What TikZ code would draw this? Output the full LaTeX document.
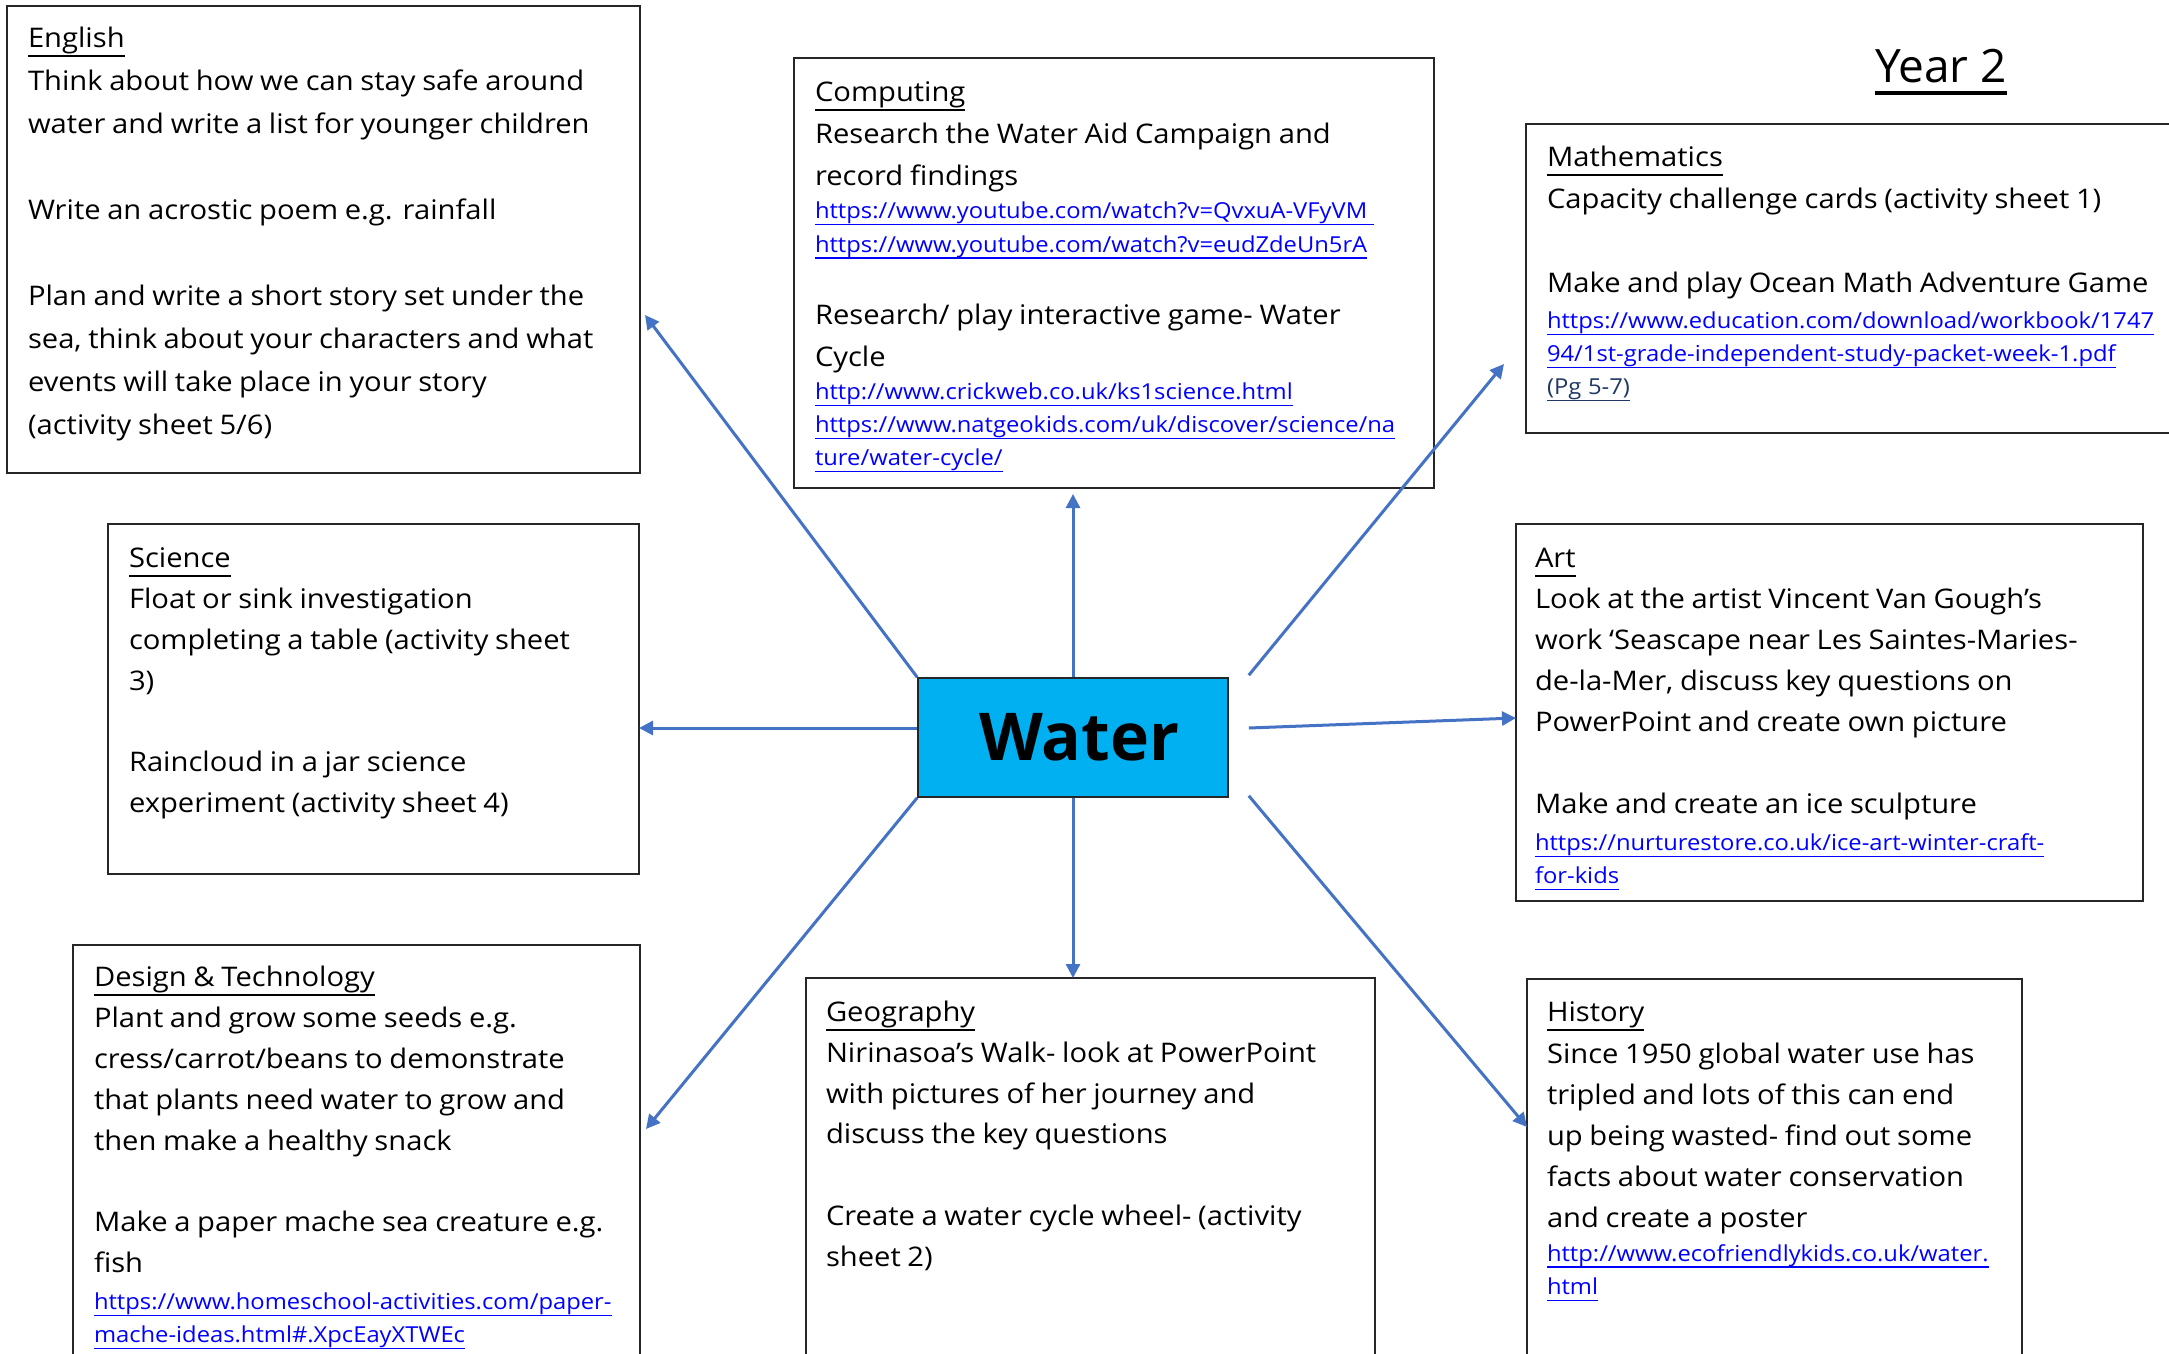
\documentclass[tikz,border=0pt]{standalone}
\usepackage{fontspec}
\setmainfont{Open Sans}[FakeStretch=1.08]
\newfontfamily\plainfont{Open Sans}
\usetikzlibrary{arrows.meta,calc}
\definecolor{arrowblue}{HTML}{4472C4}
\definecolor{waterfill}{HTML}{00B0F0}
\definecolor{linkblue}{HTML}{0000FF}
\definecolor{navylink}{HTML}{1F3864}
\definecolor{boxline}{HTML}{262626}
\newcommand\setbs[1]{\fontsize{13.5}{#1}\selectfont}
\newcommand\urlf{\fontsize{11}{16.6}\selectfont}
% #1 depth below baseline, #2 thickness, #3 text
\newcommand\ulbox[3]{\leavevmode\setbox0\hbox{#3}\rlap{\vrule height -#1 depth \dimexpr#1+#2\relax width \wd0}\box0}
\newcommand\hd[1]{\ulbox{3.7pt}{1pt}{#1}}
\newcommand\lk[1]{{\urlf\color{linkblue}\ulbox{2.7pt}{0.6pt}{#1}\par}}
\newcommand\nlk[1]{{\urlf\color{navylink}\ulbox{2.7pt}{0.6pt}{#1}\par}}
\tikzset{
  boxst/.style={draw=boxline, line width=0.8pt, anchor=north west, inner sep=0pt, outer sep=0pt, fill=white},
  txt/.style={anchor=north west, inner sep=0pt, outer sep=0pt, text width=#1, align=left,
    font={\parindent=0pt\parskip=0pt}},
  arr/.style={draw=arrowblue, line width=1.5pt, -{Triangle[length=7pt,width=7pt,fill=arrowblue]}},
  waterbox/.style={draw=boxline, line width=0.8pt, fill=waterfill, minimum width=155pt,
    minimum height=59.5pt, inner sep=0pt, font={\plainfont\fontsize{33}{40}\selectfont\bfseries}},
}
\begin{document}
\begin{tikzpicture}[x=0.5pt,y=-0.5pt]
\useasboundingbox (0,0) rectangle (2169,1354);
\clip (0,0) rectangle (2169,1354);
\fill[white] (0,0) rectangle (2169,1354);

% boxes
\node[boxst, minimum width=316.5pt, minimum height=233.5pt] (eng) at (7,6) {};
\node[boxst, minimum width=320pt, minimum height=215pt] (comp) at (794,58) {};
\node[boxst, minimum width=330pt, minimum height=154.5pt] (math) at (1526,124) {};
\node[boxst, minimum width=265.5pt, minimum height=175pt] (sci) at (108,524) {};
\node[boxst, minimum width=313.5pt, minimum height=188.5pt] (art) at (1516,524) {};
\node[boxst, minimum width=283.5pt, minimum height=217.5pt] (dt) at (73,945) {};
\node[boxst, minimum width=284.5pt, minimum height=201pt] (geo) at (806,978) {};
\node[boxst, minimum width=247.5pt, minimum height=200.5pt] (hist) at (1527,979) {};
\node[waterbox] (water) at (1073,737.5) {\hspace*{6pt}Water};

% title
\node[anchor=base, inner sep=0pt, font={\plainfont\fontsize{23}{27}\selectfont}] (year) at (1941,83)
  {\ulbox{4pt}{2pt}{Year 2}};

% texts
\node[txt=420pt] (engT) at (28,17.6) {\setbs{21.5pt}%
\hd{English}\strut\par
Think about how we can stay safe around\par
water and write a list for younger children\par
\vspace{21.5pt}Write an acrostic poem e.g. rainfall\par
\vspace{21.5pt}Plan and write a short story set under the\par
sea, think about your characters and what\par
events will take place in your story\par
(activity sheet 5/6)\par};

\node[txt=420pt] (compT) at (815,72.3) {\setbs{21pt}%
\hd{Computing}\strut\par
Research the Water Aid Campaign and\par
record findings\par
\lk{https://www.youtube.com/watch?v=QvxuA-VFyVM~}
\lk{https://www.youtube.com/watch?v=eudZdeUn5rA}
\vspace{15pt}Research/ play interactive game- Water\par
Cycle\par
\lk{http://www.crickweb.co.uk/ks1science.html}
\lk{https://www.natgeokids.com/uk/discover/science/na}
\lk{ture/water-cycle/}};

\node[txt=420pt] (mathT) at (1547,137.3) {\setbs{21pt}%
\hd{Mathematics}\strut\par
Capacity challenge cards (activity sheet 1)\par
\vspace{21pt}Make and play Ocean Math Adventure Game\par
\vspace{1.2pt}\lk{https://www.education.com/download/workbook/1747}
\lk{94/1st-grade-independent-study-packet-week-1.pdf}
\nlk{(Pg 5-7)}};

\node[txt=420pt] (sciT) at (129,539.3) {\setbs{20.4pt}%
\hd{Science}\strut\par
Float or sink investigation\par
completing a table (activity sheet\par
3)\par
\vspace{20.4pt}Raincloud in a jar science\par
experiment (activity sheet 4)\par};

\node[txt=420pt] (artT) at (1535,539.3) {\setbs{20.4pt}%
\hd{Art}\strut\par
Look at the artist Vincent Van Gough’s\par
work ‘Seascape near Les Saintes-Maries-\par
de-la-Mer, discuss key questions on\par
PowerPoint and create own picture\par
\vspace{21pt}Make and create an ice sculpture\par
\vspace{1.7pt}\lk{https://nurturestore.co.uk/ice-art-winter-craft-}
\lk{for-kids}};

\node[txt=420pt] (dtT) at (94,958.4) {\setbs{20.4pt}%
\hd{Design \& Technology}\strut\par
Plant and grow some seeds e.g.\par
cress/carrot/beans to demonstrate\par
that plants need water to grow and\par
then make a healthy snack\par
\vspace{20.4pt}Make a paper mache sea creature e.g.\par
fish\par
\vspace{1.7pt}\lk{https://www.homeschool-activities.com/paper-}
\lk{mache-ideas.html\#.XpcEayXTWEc}};

\node[txt=420pt] (geoT) at (826,993) {\setbs{20.4pt}%
\hd{Geography}\strut\par
Nirinasoa’s Walk- look at PowerPoint\par
with pictures of her journey and\par
discuss the key questions\par
\vspace{20.4pt}Create a water cycle wheel- (activity\par
sheet 2)\par};

\node[txt=420pt] (histT) at (1547,993) {\setbs{20.6pt}%
\hd{History}\strut\par
Since 1950 global water use has\par
tripled and lots of this can end\par
up being wasted- find out some\par
facts about water conservation\par
and create a poster\par
\lk{http://www.ecofriendlykids.co.uk/water.}
\lk{html}};

% connectors
\coordinate (wW) at ([yshift=4.75pt]water.west);
\coordinate (wE) at ([xshift=10pt,yshift=4.75pt]water.east);
\draw[arr] (water.north west) -- ([xshift=2.5pt,yshift=-154.5pt]eng.north east);
\draw[arr] (water.north) -- ([yshift=-3pt]comp.south -| water.north);
\draw[arr] ([xshift=10pt,yshift=1pt]water.north east) -- ([xshift=-11pt,yshift=34.5pt]math.south west);
\draw[arr] (wW) -- (wW -| sci.east);
\draw[arr] (wE) -- ([yshift=-2.75pt]art.west);
\draw[arr] (water.south west) -- ([xshift=3pt,yshift=-92pt]dt.north east);
\draw[arr] (water.south) -- (water.south |- geo.north);
\draw[arr] ([xshift=10pt,yshift=1pt]water.south east) -- ([yshift=-74pt]hist.north west);
\end{tikzpicture}
\end{document}
